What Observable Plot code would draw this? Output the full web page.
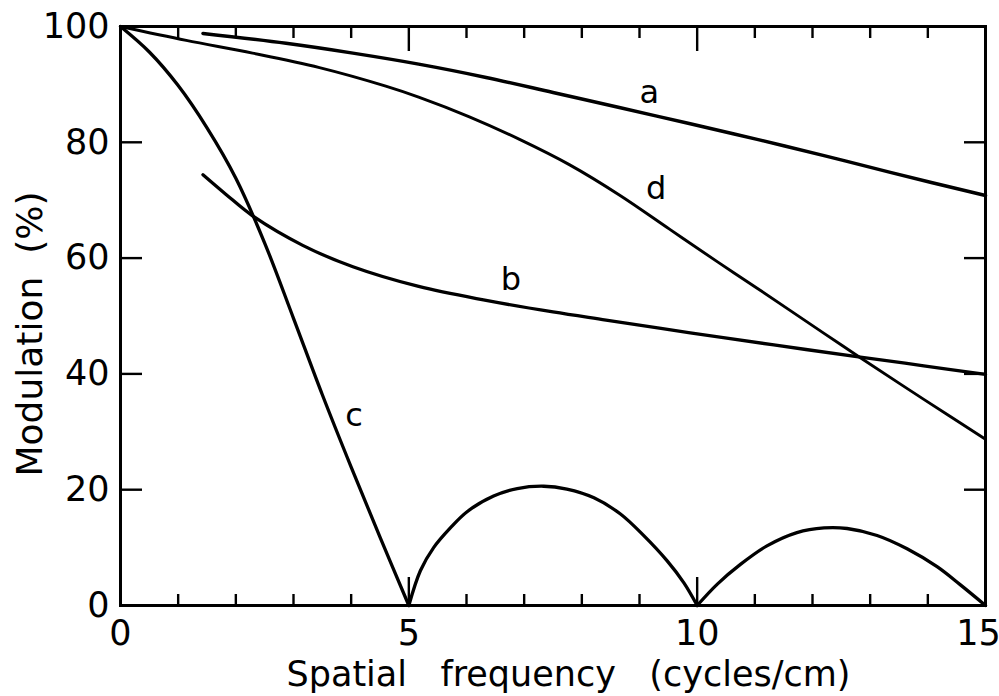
<!DOCTYPE html>
<html><head><meta charset="utf-8">
<script src="https://cdn.jsdelivr.net/npm/d3@7"></script>
<script src="https://cdn.jsdelivr.net/npm/@observablehq/plot@0.6"></script>
<style>html,body{margin:0;padding:0;background:#fff;} #chart svg{display:block;overflow:visible}</style>
</head><body><div id="chart"></div>
<script>
// Curve a (frequency cycles/cm, modulation %)
const curveA = [[1.43,98.8],[2.87,97.1],[4.03,95.4],[5.17,93.5],[6.34,91.2],[7.5,88.6],[8.65,86.0],[9.88,83.2],[11.04,80.5],[12.2,77.7],[13.35,74.8],[15,70.8]];
// Curve b
const curveB = [[1.43,74.4],[1.83,71.0],[2.29,67.3],[3.16,62.2],[4.03,58.5],[5.17,55.1],[6.34,52.7],[7.5,50.7],[8.42,49.3],[9.88,47.1],[11.33,45.0],[12.83,42.9],[13.93,41.4],[15,39.9]];
// Curve c: main lobe and two side lobes (cusps at 5, 10, 15)
const curveC1 = [[0,100],[0.5,95.6],[1.0,89.8],[1.5,82.5],[2.0,73.8],[2.5,62.6],[3.0,49.6],[3.5,36.4],[4.0,23.9],[4.5,11.8],[5,0]];
const curveC2 = [[5,0],[5.2,6.0],[5.43,10.0],[5.72,13.4],[6.01,16.2],[6.47,18.9],[6.88,20.2],[7.34,20.6],[7.74,20.1],[8.21,18.6],[8.67,15.8],[9.07,12.1],[9.48,7.7],[9.77,3.9],[10,0]];
const curveC3 = [[10,0],[10.35,3.7],[10.75,7.1],[11.21,10.3],[11.73,12.6],[12.2,13.4],[12.6,13.3],[13.12,12.1],[13.64,9.8],[14.16,6.7],[14.56,3.6],[15,0]];
// Curve d
const curveD = [[0,100],[1.14,97.6],[2.29,95.4],[3.45,92.9],[4.6,89.7],[5.17,87.8],[6.05,84.4],[6.92,80.5],[7.79,76.1],[8.65,70.9],[9.52,65.0],[10.36,59.3],[11.04,54.8],[12.2,47.0],[12.83,42.8],[13.93,35.6],[15,28.7]];

// Curve labels
const labelNames = ["a","b","c","d"];
const labelX = [9.17, 6.77, 4.05, 9.29];
const labelY = [88.6, 56.3, 32.8, 72.0];

// Ticks
const xMinorTicks = [1,2,3,4,6,7,8,9,11,12,13,14];
const xMajorTicks = [5,10];
const xTickLabels = [0,5,10];
const xTickLabelsEdge = [15];
const yTicks = [20,40,60,80];
const yTickLabels = [0,20,40,60,80,100];

const xTitle = "Spatial\u00a0\u00a0 frequency\u00a0\u00a0 (cycles/cm)";
const yTitle = "Modulation\u00a0 (%)";

const toRows = (pts) => pts.map(([x, y]) => ({x, y}));
const labels = labelNames.map((t, i) => ({t, x: labelX[i], y: labelY[i]}));

const lineOpts = {x: "x", y: "y", stroke: "#000", strokeWidth: 3.3, curve: "catmull-rom", strokeLinecap: "round"};
const tk = {stroke: "#000", strokeWidth: 2.4};
const FH = 696 - 26 - 91;   // frame height
const FW = 999 - 120 - 14;  // frame width

const chart = Plot.plot({
  width: 999, height: 696,
  marginLeft: 120, marginRight: 14, marginTop: 26, marginBottom: 91,
  style: {fontFamily: "DejaVu Sans", fontSize: "35px", color: "#000", background: "#fff", overflow: "visible"},
  x: {domain: [0, 15], axis: null},
  y: {domain: [0, 100], axis: null},
  marks: [
    Plot.line(toRows(curveA), {...lineOpts, strokeWidth: 3.5}),
    Plot.line(toRows(curveB), lineOpts),
    Plot.line(toRows(curveC1), lineOpts),
    Plot.line(toRows(curveC2), lineOpts),
    Plot.line(toRows(curveC3), lineOpts),
    Plot.line(toRows(curveD), {...lineOpts, strokeWidth: 2.9}),
    Plot.frame({stroke: "#000", strokeWidth: 3}),
    // inward ticks on all four sides
    Plot.tickX(xMinorTicks, {x: (d) => d, insetTop: FH - 11, ...tk}),
    Plot.tickX(xMajorTicks, {x: (d) => d, insetTop: FH - 28, ...tk}),
    Plot.tickX(xMinorTicks, {x: (d) => d, insetBottom: FH - 12, ...tk}),
    Plot.tickX(xMajorTicks, {x: (d) => d, insetBottom: FH - 25, ...tk}),
    Plot.tickY(yTicks, {y: (d) => d, insetRight: FW - 22, ...tk}),
    Plot.tickY(yTicks, {y: (d) => d, insetLeft: FW - 21, ...tk}),
    // tick labels
    Plot.axisX(xTickLabels, {anchor: "bottom", tickSize: 0, tickPadding: 15, fill: "#000", fontSize: 35, label: null, tickFormat: (d) => String(d)}),
    Plot.axisX(xTickLabelsEdge, {anchor: "bottom", tickSize: 0, tickPadding: 15, dx: -7, fill: "#000", fontSize: 35, label: null, tickFormat: (d) => String(d)}),
    Plot.axisY(yTickLabels, {anchor: "left", tickSize: 0, tickPadding: 11, fill: "#000", fontSize: 35, label: null, tickFormat: (d) => String(d)}),
    // curve labels
    Plot.text(labels, {x: "x", y: "y", text: "t", fontSize: 32, fill: "#000"}),
    // axis titles
    Plot.text([xTitle], {text: (d) => d, frameAnchor: "bottom-left", textAnchor: "start", lineAnchor: "middle", dx: 166, dy: 69, fontSize: 35, fill: "#000"}),
    Plot.text([yTitle], {text: (d) => d, frameAnchor: "left", textAnchor: "middle", lineAnchor: "middle", rotate: -90, dx: -90, dy: 18, fontSize: 36, fill: "#000"})
  ]
});
document.getElementById("chart").appendChild(chart);
</script>
</body></html>
